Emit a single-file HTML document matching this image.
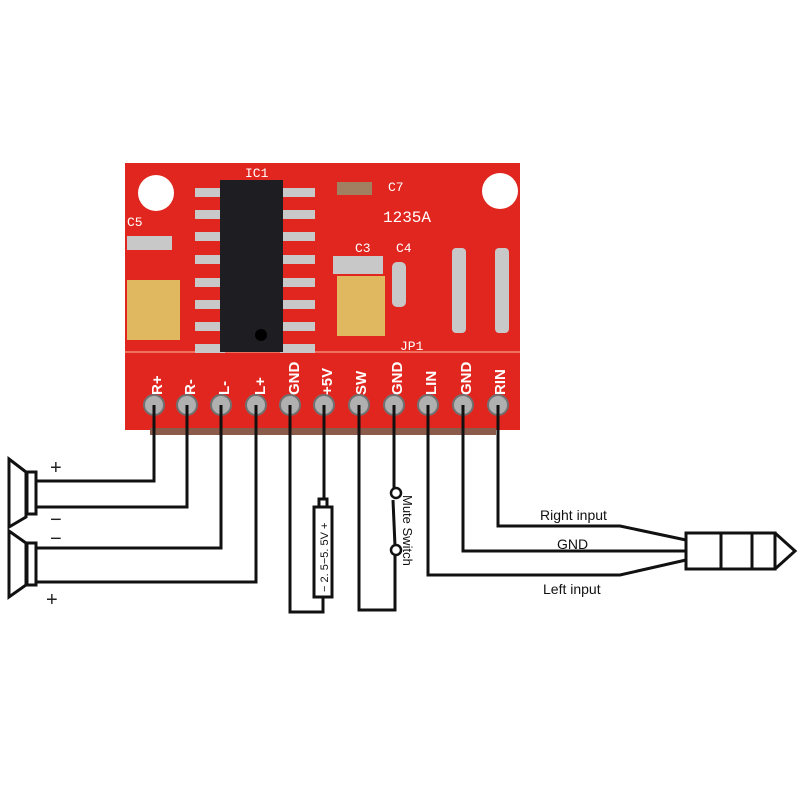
<!DOCTYPE html>
<html><head><meta charset="utf-8"><style>html,body{margin:0;padding:0;background:#fff}svg{display:block}</style></head>
<body>
<svg width="800" height="800" viewBox="0 0 800 800" xmlns="http://www.w3.org/2000/svg" font-family="Liberation Sans, sans-serif">
<rect width="800" height="800" fill="#fff"/>
<!-- board -->
<rect x="125" y="163" width="395" height="267" fill="#e0261e"/>
<rect x="150" y="428" width="346" height="7" fill="#8a5a4a"/>
<line x1="125" y1="352" x2="520" y2="352" stroke="#f07060" stroke-width="2"/>
<circle cx="156" cy="193" r="18" fill="#fff"/>
<circle cx="500" cy="191" r="18" fill="#fff"/>
<!-- IC -->
<g fill="#c8c8c8">
<rect x="195" y="188" width="30" height="9"/><rect x="195" y="210" width="30" height="9"/><rect x="195" y="232" width="30" height="9"/><rect x="195" y="255" width="30" height="9"/><rect x="195" y="278" width="30" height="9"/><rect x="195" y="300" width="30" height="9"/><rect x="195" y="322" width="30" height="9"/><rect x="195" y="344" width="30" height="9"/>
<rect x="280" y="188" width="35" height="9"/><rect x="280" y="210" width="35" height="9"/><rect x="280" y="232" width="35" height="9"/><rect x="280" y="255" width="35" height="9"/><rect x="280" y="278" width="35" height="9"/><rect x="280" y="300" width="35" height="9"/><rect x="280" y="322" width="35" height="9"/><rect x="280" y="344" width="35" height="9"/>
<rect x="127" y="236" width="45" height="14"/>
<rect x="333" y="256" width="50" height="18"/>
<rect x="392" y="262" width="14" height="45" rx="5"/>
<rect x="452" y="248" width="14" height="85" rx="4"/>
<rect x="495" y="248" width="14" height="85" rx="4"/>
</g>
<rect x="220" y="180" width="63" height="172" fill="#1e1e22"/>
<circle cx="261" cy="335" r="6" fill="#000"/>
<rect x="337" y="182" width="35" height="13" fill="#a08060"/>
<rect x="127" y="280" width="53" height="60" fill="#e0b860"/>
<rect x="337" y="276" width="48" height="60" fill="#e0b860"/>
<g fill="#fff" font-size="13" font-family="Liberation Mono, monospace">
<text x="245" y="177">IC1</text><text x="388" y="191">C7</text>
<text x="383" y="222" font-size="16">1235A</text>
<text x="355" y="252">C3</text><text x="396" y="252">C4</text>
<text x="127" y="226">C5</text><text x="400" y="350">JP1</text>
</g>
<!-- header labels -->
<g fill="#fff" font-size="15" font-weight="bold">
<text transform="translate(162,395) rotate(-90)">R+</text>
<text transform="translate(195,395) rotate(-90)">R-</text>
<text transform="translate(229,395) rotate(-90)">L-</text>
<text transform="translate(265,395) rotate(-90)">L+</text>
<text transform="translate(299,395) rotate(-90)">GND</text>
<text transform="translate(332,395) rotate(-90)">+5V</text>
<text transform="translate(366,395) rotate(-90)">SW</text>
<text transform="translate(402,395) rotate(-90)">GND</text>
<text transform="translate(436,395) rotate(-90)">LIN</text>
<text transform="translate(471,395) rotate(-90)">GND</text>
<text transform="translate(505,395) rotate(-90)">RIN</text>
</g>
<g fill="#b0b0b0" stroke="#707070" stroke-width="2">
<circle cx="154" cy="405" r="10"/><circle cx="187" cy="405" r="10"/><circle cx="221" cy="405" r="10"/><circle cx="256" cy="405" r="10"/><circle cx="290" cy="405" r="10"/><circle cx="324" cy="405" r="10"/><circle cx="359" cy="405" r="10"/><circle cx="394" cy="405" r="10"/><circle cx="428" cy="405" r="10"/><circle cx="463" cy="405" r="10"/><circle cx="498" cy="405" r="10"/>
</g>
<!-- wires -->
<g fill="none" stroke="#111" stroke-width="3">
<polyline points="154,405 154,481 36,481"/>
<polyline points="187,405 187,507 36,507"/>
<polyline points="221,405 221,548 36,548"/>
<polyline points="256,405 256,582 36,582"/>
<polyline points="290,405 290,612 323,612 323,598"/>
<polyline points="324,405 324,500"/>
<polyline points="359,405 359,610 395,610 395,553"/>
<polyline points="394,405 394,490"/>
<line x1="395" y1="546" x2="393" y2="500"/>
<polyline points="498,405 498,526 620,526 686,540"/>
<polyline points="463,405 463,551 686,551"/>
<polyline points="428,405 428,575 620,575 686,560"/>
<!-- speakers -->
<polygon points="9,459 26,472 26,517 9,527"/><rect x="27" y="472" width="9" height="42"/>
<polygon points="9,531 26,543 26,585 9,597"/><rect x="27" y="543" width="9" height="42"/>
<!-- battery -->
<rect x="314" y="507" width="18" height="90"/>
<rect x="319" y="499" width="8" height="8"/>
<!-- jack -->
<rect x="686" y="533" width="89" height="36"/>
<line x1="721" y1="533" x2="721" y2="569"/><line x1="752" y1="533" x2="752" y2="569"/>
<polyline points="775,533 795,551 775,569"/>
</g>
<circle cx="396" cy="550" r="5" fill="#fff" stroke="#111" stroke-width="2.5"/>
<circle cx="396" cy="493" r="5" fill="#fff" stroke="#111" stroke-width="2.5"/>
<g font-size="20" fill="#222"><text x="50" y="474">+</text><text x="50" y="526">−</text><text x="50" y="545">−</text><text x="46" y="606">+</text></g>
<text transform="translate(328,592) rotate(-90)" font-size="11" fill="#111">− 2. 5−5. 5V +</text>
<text transform="translate(403,495) rotate(90)" font-size="13" fill="#111">Mute Switch</text>
<g font-size="14" fill="#111"><text x="540" y="520">Right input</text><text x="557" y="549">GND</text><text x="543" y="594">Left input</text></g>
</svg>
</body></html>
